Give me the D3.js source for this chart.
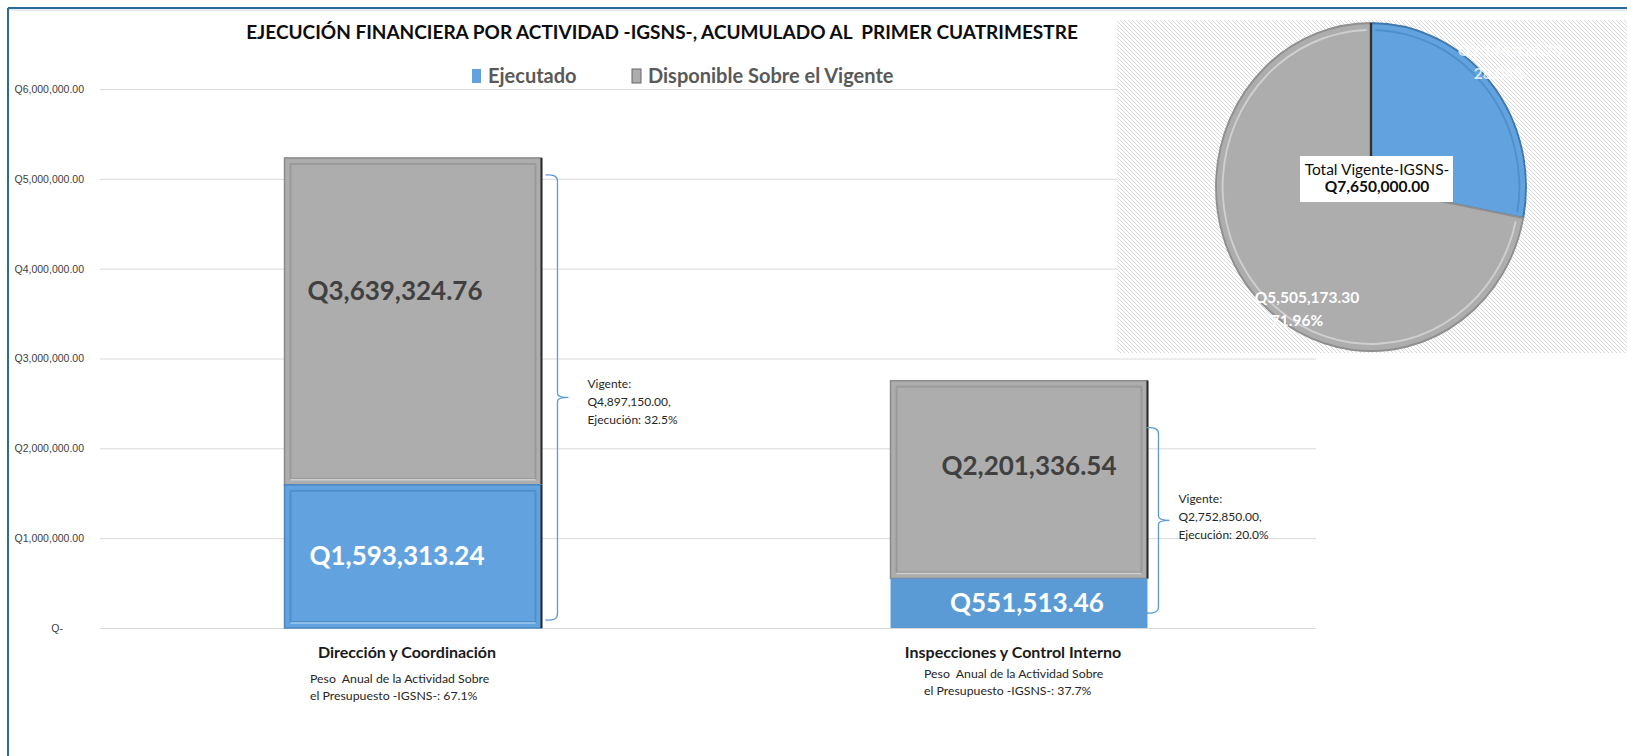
<!DOCTYPE html>
<html>
<head>
<meta charset="utf-8">
<script src="https://cdnjs.cloudflare.com/ajax/libs/d3/7.8.5/d3.min.js"></script>
<style>
  body { margin: 0; background: #ffffff; }
  svg { display: block; font-family: Lato, "Open Sans", sans-serif; }
</style>
</head>
<body>
<div id="chart"></div>
<script>
var width = 1627;
var height = 756;

// data
var categories = ["Dirección y Coordinación", "Inspecciones y Control Interno"];
var ejecutado = [1593313.24, 551513.46];
var disponible = [3639324.76, 2201336.54];
var vigente = [4897150.00, 2752850.00];
var ejecucionPct = ["32.5%", "20.0%"];
var pesoPct = ["67.1%", "37.7%"];
var seriesNames = ["Ejecutado", "Disponible Sobre el Vigente"];
var yTicks = [0, 1000000, 2000000, 3000000, 4000000, 5000000, 6000000];

var pieLabels = ["Ejecutado", "Disponible"];
var pieValues = [2144826.70, 5505173.30];
var pieTotal = 7650000.00;

var blue = "#62a3df";
var gray = "#adadad";

var fmtQ = d3.format(",.2f");
function money(v) { return "Q" + fmtQ(v); }

var svg = d3.select("#chart")
  .append("svg")
  .attr("width", width)
  .attr("height", height);

// frame of the chart (top and left edge are visible)
svg.append("line").attr("x1", 8).attr("x2", width).attr("y1", 8).attr("y2", 8)
  .attr("stroke", "#2a6b97").attr("stroke-width", 2);
svg.append("line").attr("x1", 8).attr("x2", width).attr("y1", 10).attr("y2", 10)
  .attr("stroke", "#c9dbe8").attr("stroke-width", 1);
svg.append("line").attr("x1", 8).attr("x2", 8).attr("y1", 8).attr("y2", height)
  .attr("stroke", "#2a6b97").attr("stroke-width", 2);

var y = d3.scaleLinear().domain([0, 6000000]).range([628, 89]);
var x = d3.scaleBand().domain(categories).range([110, 1322])
  .paddingInner(0.576).paddingOuter(0.288);

// gridlines + y labels
var yAxis = d3.axisLeft(y)
  .tickValues(yTicks)
  .tickSize(-(1316 - 100))
  .tickPadding(16)
  .tickFormat(function(d) { return d === 0 ? "Q-" : money(d); });

var gy = svg.append("g")
  .attr("transform", "translate(100,0)")
  .call(yAxis);
gy.select(".domain").remove();
gy.selectAll(".tick line").attr("stroke", "#d9d9d9").attr("stroke-width", 1);
gy.selectAll(".tick text")
  .attr("fill", "#404040")
  .style("font-size", "10.5px")
  .attr("dx", function(d) { return d === 0 ? -21 : 0; });

// title
svg.append("text")
  .attr("x", 662).attr("y", 39)
  .attr("text-anchor", "middle")
  .style("font-size", "19px").style("font-weight", "bold")
  .style("white-space", "pre")
  .attr("fill", "#0d0d0d")
  .text("EJECUCIÓN FINANCIERA POR ACTIVIDAD -IGSNS-, ACUMULADO AL  PRIMER CUATRIMESTRE");

// legend
var legendX = [472, 632];
var legend = svg.selectAll(".legend")
  .data(seriesNames)
  .enter().append("g")
  .attr("class", "legend")
  .attr("transform", function(d, i) { return "translate(" + legendX[i] + ",76)"; });
legend.append("rect")
  .attr("x", 0).attr("y", -7).attr("width", 9).attr("height", 14)
  .attr("fill", function(d, i) { return i === 0 ? blue : gray; })
  .attr("stroke", function(d, i) { return i === 0 ? "none" : "#666"; })
  .attr("stroke-width", 1);
legend.append("text")
  .attr("x", 16).attr("y", 7)
  .style("font-size", "20px").style("font-weight", "bold")
  .attr("fill", "#595959")
  .text(function(d) { return d; });

// bevelled bar segment
function bevelRect(g, x0, y0, w, h, fill, edge, inner, hi) {
  g.append("rect").attr("x", x0).attr("y", y0).attr("width", w).attr("height", h)
    .attr("fill", fill).attr("stroke", edge).attr("stroke-width", 1.5);
  g.append("rect").attr("x", x0 + 6).attr("y", y0 + 6).attr("width", w - 12).attr("height", h - 12)
    .attr("fill", "none").attr("stroke", inner).attr("stroke-width", 2);
  g.append("line").attr("x1", x0 + 6).attr("x2", x0 + w - 6)
    .attr("y1", y0 + h - 5).attr("y2", y0 + h - 5)
    .attr("stroke", hi).attr("stroke-width", 1.5);
  g.append("line").attr("x1", x0 + w).attr("x2", x0 + w)
    .attr("y1", y0).attr("y2", y0 + h)
    .attr("stroke", "#2b2b2b").attr("stroke-width", 2);
}

var bars = svg.append("g");
categories.forEach(function(c, i) {
  var bx = x(c), bw = x.bandwidth();
  var yE = y(ejecutado[i]);
  var yT = y(ejecutado[i] + disponible[i]);
  // gray (disponible) on top
  bevelRect(bars, bx, yT, bw, yE - yT, gray, "#8a8a8a", "#9a9a9a", "#cfcfcf");
  // blue (ejecutado) at base
  if (i === 0) {
    bevelRect(bars, bx, yE, bw, y(0) - yE, blue, "#4a86c0", "#4f8fcc", "#9fcaf0");
  } else {
    bars.append("rect").attr("x", bx).attr("y", yE)
      .attr("width", bw).attr("height", y(0) - yE)
      .attr("fill", "#5b9bd5");
  }
});

// labels in the bars
var grayLabelDx = [-18, 10];
var grayLabelDy = [-30, -14];
var blueLabelDx = [-16, 8];
bars.selectAll(".lbl-gray")
  .data(categories)
  .enter().append("text")
  .attr("class", "lbl-gray")
  .attr("x", function(d, i) { return x(d) + x.bandwidth() / 2 + grayLabelDx[i]; })
  .attr("y", function(d, i) {
    return (y(ejecutado[i]) + y(ejecutado[i] + disponible[i])) / 2 + grayLabelDy[i] + 9; })
  .attr("text-anchor", "middle")
  .style("font-size", "26px").style("font-weight", "bold")
  .attr("fill", "#404040")
  .text(function(d, i) { return money(disponible[i]); });

bars.selectAll(".lbl-blue")
  .data(categories)
  .enter().append("text")
  .attr("class", "lbl-blue")
  .attr("x", function(d, i) { return x(d) + x.bandwidth() / 2 + blueLabelDx[i]; })
  .attr("y", function(d, i) { return (y(ejecutado[i]) + y(0)) / 2 + 9; })
  .attr("text-anchor", "middle")
  .style("font-size", "26px").style("font-weight", "bold")
  .attr("fill", "#ffffff")
  .text(function(d, i) { return money(ejecutado[i]); });

// braces with vigente / ejecución notes
var braceTopInset = [17, 47];
var braceBottomInset = [8, 15];
var braceGap = [16, 11];     // bar edge -> vertical stroke
var noteDx = [30, 20];
var noteDy = [-9, -17];
categories.forEach(function(c, i) {
  var vx = x(c) + x.bandwidth() + braceGap[i];
  var bx = vx - 12;
  var top = y(ejecutado[i] + disponible[i]) + braceTopInset[i];
  var bot = y(0) - braceBottomInset[i];
  var mid = top + (bot - top) * 0.5;
  var p = d3.path();
  p.moveTo(bx, top);
  p.quadraticCurveTo(vx, top - 1, vx, top + 6);
  p.lineTo(vx, mid - 4);
  p.quadraticCurveTo(vx, mid, vx + 11, mid);
  p.quadraticCurveTo(vx, mid, vx, mid + 4);
  p.lineTo(vx, bot - 6);
  p.quadraticCurveTo(vx, bot + 1, bx, bot);
  svg.append("path").attr("d", p.toString())
    .attr("fill", "none").attr("stroke", "#5b9bd5").attr("stroke-width", 1.3);

  var note = svg.append("text")
    .attr("y", mid + noteDy[i])
    .style("font-size", "12px").attr("fill", "#262626");
  var lines = ["Vigente:", money(vigente[i]) + ",", "Ejecución: " + ejecucionPct[i]];
  lines.forEach(function(t, k) {
    note.append("tspan").attr("x", vx + noteDx[i]).attr("dy", k === 0 ? 0 : 18).text(t);
  });
});

// category labels
var catY = 658;
svg.selectAll(".cat")
  .data(categories)
  .enter().append("text")
  .attr("class", "cat")
  .attr("x", function(d) { return x(d) + x.bandwidth() / 2 - 6; })
  .attr("y", catY)
  .attr("text-anchor", "middle")
  .style("font-size", "16px").style("font-weight", "bold")
  .attr("fill", "#1a1a1a")
  .text(function(d) { return d; });

var pesoDx = [-103, -95];
var pesoDy = [0, -5];
categories.forEach(function(c, i) {
  var t = svg.append("text")
    .attr("y", 683 + pesoDy[i])
    .style("font-size", "12.3px").attr("fill", "#262626")
    .style("white-space", "pre");
  var px = x(c) + x.bandwidth() / 2 + pesoDx[i];
  t.append("tspan").attr("x", px).text("Peso  Anual de la Actividad Sobre");
  t.append("tspan").attr("x", px).attr("dy", 17)
    .text("el Presupuesto -IGSNS-: " + pesoPct[i]);
});

// ---- pie inset ----
var defs = svg.append("defs");
var pat = defs.append("pattern")
  .attr("id", "hatch")
  .attr("patternUnits", "userSpaceOnUse")
  .attr("width", 4).attr("height", 4);
pat.append("rect").attr("width", 4).attr("height", 4).attr("fill", "#ffffff");
pat.append("path")
  .attr("d", "M-1,-1 L5,5 M-1,3 L1,5 M3,-1 L5,1")
  .attr("stroke", "#d8d8d8").attr("stroke-width", 1);

svg.append("rect")
  .attr("x", 1117).attr("y", 20)
  .attr("width", width - 1117).attr("height", 333)
  .attr("fill", "url(#hatch)");

var cx = 1371, cy = 187, r = 164;
var pie = d3.pie().sort(null).value(function(d) { return d; });
var arcs = pie(pieValues);
var arc = d3.arc().innerRadius(0).outerRadius(r);

var pg = svg.append("g")
  .attr("transform", "translate(" + cx + "," + cy + ") scale(0.945,1)");
var pieFill = [blue, gray];
var pieEdge = ["#3f78ad", "#8f8f8f"];
var pieInner = ["#4f8fcc", "#cfcfcf"];

pg.selectAll(".slice")
  .data(arcs)
  .enter().append("path")
  .attr("class", "slice")
  .attr("d", arc)
  .attr("fill", function(d, i) { return pieFill[i]; })
  .attr("stroke", function(d, i) { return pieEdge[i]; })
  .attr("stroke-width", 2);

// bevel: inner arc line near the rim
pg.selectAll(".rim")
  .data(arcs)
  .enter().append("path")
  .attr("class", "rim")
  .attr("d", function(d) {
    return d3.arc().innerRadius(r - 8).outerRadius(r - 6)
      .startAngle(d.startAngle + 0.03).endAngle(d.endAngle - 0.03)();
  })
  .attr("fill", function(d, i) { return pieInner[i]; });

// dark seam at the top
pg.append("line").attr("x1", 0).attr("x2", 0).attr("y1", 0).attr("y2", -r)
  .attr("stroke", "#333333").attr("stroke-width", 2.5);

// pie data labels
var pieLabelPos = [[1510, 56], [1307, 303]];
arcs.forEach(function(a, i) {
  var pct = (a.value / pieTotal * 100).toFixed(2) + "%";
  var t = svg.append("text")
    .attr("x", pieLabelPos[i][0]).attr("y", pieLabelPos[i][1])
    .attr("text-anchor", "middle")
    .style("font-size", "15.5px").style("font-weight", "bold")
    .attr("fill", "#ffffff").attr("fill-opacity", i === 0 ? 0.8 : 1);
  t.append("tspan").attr("x", pieLabelPos[i][0]).text(money(a.value));
  t.append("tspan").attr("x", pieLabelPos[i][0] - 10).attr("dy", 23).text(pct);
});

// centre box with total
svg.append("rect")
  .attr("x", 1300).attr("y", 156).attr("width", 153).attr("height", 46)
  .attr("fill", "#ffffff");
var tot = svg.append("text")
  .attr("x", 1377).attr("y", 175)
  .attr("text-anchor", "middle")
  .style("font-size", "15.5px").attr("fill", "#0d0d0d");
tot.append("tspan").attr("x", 1377).text("Total Vigente-IGSNS-");
tot.append("tspan").attr("x", 1377).attr("dy", 17).style("font-weight", "bold")
  .text(money(pieTotal));
</script>
</body>
</html>
